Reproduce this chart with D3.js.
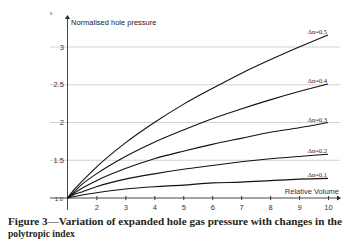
<!DOCTYPE html>
<html>
<head>
<meta charset="utf-8">
<script src="https://cdn.jsdelivr.net/npm/d3@7"></script>
<style>
  body { margin: 0; background: #fff; }
  svg { display: block; }
</style>
</head>
<body>
<svg id="chart"></svg>
<script>
// relative volume sample points
const volumes = [1, 1.25, 1.5, 2, 3, 4, 5, 6, 7, 8, 9, 10]
// normalised hole pressure, one list per polytropic index change
const seriesNames = ['Δn=0.1', 'Δn=0.2', 'Δn=0.3', 'Δn=0.4', 'Δn=0.5']
const pressure01 = [1, 1.02, 1.04, 1.07, 1.12, 1.15, 1.17, 1.20, 1.21, 1.23, 1.25, 1.26]
const pressure02 = [1, 1.05, 1.08, 1.15, 1.25, 1.32, 1.38, 1.43, 1.48, 1.52, 1.55, 1.58]
const pressure03 = [1, 1.07, 1.13, 1.23, 1.39, 1.52, 1.62, 1.71, 1.79, 1.87, 1.93, 2.00]
const pressure04 = [1, 1.09, 1.18, 1.32, 1.55, 1.74, 1.90, 2.05, 2.18, 2.30, 2.41, 2.51]
const pressure05 = [1, 1.12, 1.22, 1.41, 1.73, 2.00, 2.24, 2.45, 2.65, 2.83, 3.00, 3.16]
const xTicks = [2, 3, 4, 5, 6, 7, 8, 9, 10]
const yTicks = [1.0, 1.5, 2, 2.5, 3]

const allSeries = [pressure01, pressure02, pressure03, pressure04, pressure05]

const width = 355, height = 252
const svg = d3.select('#chart').attr('width', width).attr('height', height)

const xScale = d3.scaleLinear().domain([1, 10]).range([67.5, 328])
const yScale = d3.scaleLinear().domain([1, 3]).range([198, 47])

// gridlines
svg.append('g')
    .selectAll('line')
    .data(yTicks.slice(1))
    .join('line')
    .attr('x1', 50).attr('x2', 340)
    .attr('y1', d => yScale(d)).attr('y2', d => yScale(d))
    .attr('stroke', '#c8c8c8')
    .attr('stroke-width', 0.8)

// y tick labels
svg.append('g')
    .selectAll('text')
    .data(yTicks)
    .join('text')
    .attr('x', d => d === 1 ? 63 : 64)
    .attr('y', d => yScale(d) + 2.5)
    .attr('text-anchor', 'end')
    .attr('font-family', 'Liberation Sans, Arial, sans-serif')
    .attr('font-size', d => d === 1 ? 6 : 7.5)
    .attr('fill', '#333')
    .text(d => d === 1 ? '1.0' : d)

// x axis
const xAxis = d3.axisBottom(xScale)
    .tickValues(xTicks)
    .tickSize(3)
    .tickPadding(4)
const xAxisG = svg.append('g')
    .attr('transform', `translate(0,${yScale(1)})`)
    .call(xAxis)
xAxisG.select('.domain').remove()
xAxisG.selectAll('.tick line').attr('y1', -2).attr('y2', 2).attr('stroke', '#333')
xAxisG.selectAll('.tick text')
    .attr('font-family', 'Liberation Sans, Arial, sans-serif')
    .attr('font-size', 7.5)
    .attr('fill', '#333')

svg.append('line')
    .attr('x1', 50).attr('x2', 338)
    .attr('y1', yScale(1)).attr('y2', yScale(1))
    .attr('stroke', '#333').attr('stroke-width', 0.9)
svg.append('path')
    .attr('d', `M341,${yScale(1)} l-4,-2.5 l0,5 z`)
    .attr('fill', '#222')

// y axis
svg.append('line')
    .attr('x1', xScale(1)).attr('x2', xScale(1))
    .attr('y1', 210).attr('y2', 18)
    .attr('stroke', '#333').attr('stroke-width', 0.9)
svg.append('path')
    .attr('d', `M${xScale(1)},15 l-2.5,4 l5,0 z`)
    .attr('fill', '#222')

svg.append('text')
    .attr('x', 71).attr('y', 25)
    .attr('font-family', 'Liberation Sans, Arial, sans-serif')
    .attr('font-size', 7.5)
    .attr('fill', '#222')
    .text('Normalised hole pressure')

svg.append('text')
    .attr('x', 50).attr('y', 15)
    .attr('font-family', 'Liberation Sans, Arial, sans-serif')
    .attr('font-size', 4.5)
    .attr('fill', '#444')
    .text('s')

svg.append('text')
    .attr('x', 339).attr('y', 194)
    .attr('text-anchor', 'end')
    .attr('font-family', 'Liberation Sans, Arial, sans-serif')
    .attr('font-size', 7.5)
    .attr('fill', '#333')
    .text('Relative Volume')

// curves
const line = d3.line()
    .x((d, i) => xScale(volumes[i]))
    .y(d => yScale(d))
    .curve(d3.curveMonotoneX)

svg.append('g')
    .selectAll('path')
    .data(allSeries)
    .join('path')
    .attr('d', line)
    .attr('fill', 'none')
    .attr('stroke', '#111')
    .attr('stroke-width', 1.1)

// series labels at the curve ends
svg.append('g')
    .selectAll('text')
    .data(allSeries)
    .join('text')
    .attr('x', 327)
    .attr('y', d => yScale(d[d.length - 1]) - 1)
    .attr('text-anchor', 'end')
    .attr('font-family', 'Liberation Serif, Times New Roman, serif')
    .attr('font-size', 6.5)
    .attr('fill', '#222')
    .text((d, i) => seriesNames[i])

// caption
const caption = svg.append('text')
    .attr('font-family', 'Liberation Serif, Times New Roman, serif')
    .attr('font-weight', 'bold')
    .attr('font-size', 9.6)
    .attr('fill', '#231f20')
caption.append('tspan')
    .attr('x', 8).attr('y', 225)
    .attr('textLength', 334)
    .attr('lengthAdjust', 'spacingAndGlyphs')
    .text('Figure 3—Variation of expanded hole gas pressure with changes in the')
caption.append('tspan')
    .attr('x', 8).attr('y', 237)
    .text('polytropic index')
</script>
</body>
</html>
